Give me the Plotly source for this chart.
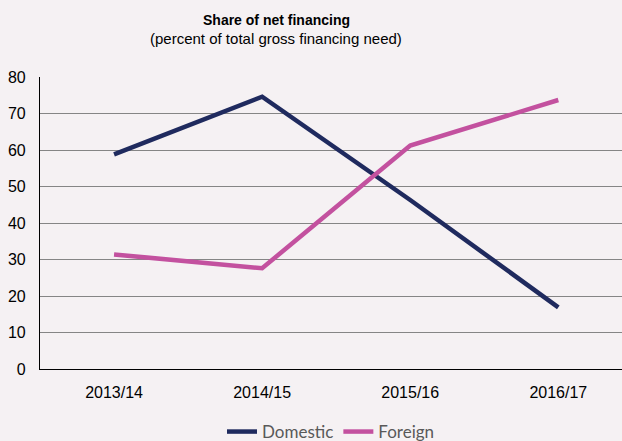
import plotly.graph_objects as go

categories = ["2013/14", "2014/15", "2015/16", "2016/17"]
domestic = [58.8, 74.6, 46.3, 16.9]
foreign = [31.4, 27.6, 61.2, 73.7]
y_ticks = [0, 10, 20, 30, 40, 50, 60, 70, 80]

W, H = 622, 441
L, R, T, B = 40, 0, 77, 72
pw = W - L - R
ph = H - T - B

fig = go.Figure()
fig.add_trace(go.Scatter(x=list(range(len(categories))), y=domestic, name="Domestic",
                         mode="lines", line=dict(color="#1f2a5e", width=4.5)))
fig.add_trace(go.Scatter(x=list(range(len(categories))), y=foreign, name="Foreign",
                         mode="lines", line=dict(color="#c3519f", width=4.5)))

bg = "#f5f1f3"
fig.update_layout(
    width=W, height=H,
    margin=dict(l=L, r=R, t=T, b=B, autoexpand=False),
    paper_bgcolor=bg, plot_bgcolor=bg,
    font=dict(family="Liberation Sans, Arial", color="#000000"),
    showlegend=True,
    legend=dict(orientation="h", x=(331 - L) / pw, xanchor="center",
                y=(T + ph - 432) / ph, yanchor="middle",
                font=dict(family="Lato", size=17, color="#595959"),
                bgcolor="rgba(0,0,0,0)", itemwidth=30, tracegroupgap=0),
    xaxis=dict(
        tickmode="array", tickvals=list(range(len(categories))), ticktext=categories,
        range=[-0.5, 3.43], showgrid=False, zeroline=False,
        showline=True, linecolor="#000000", linewidth=1.2,
        tickfont=dict(size=16, color="#000000"), ticks="", ticklabelstandoff=9,
    ),
    yaxis=dict(
        range=[0, 80], tickvals=y_ticks, showgrid=True, gridcolor="#858585", gridwidth=1.2,
        zeroline=False, showline=True, linecolor="#000000", linewidth=1.2,
        tickfont=dict(size=16, color="#000000"), ticks="", ticklabelstandoff=10,
    ),
    annotations=[
        dict(text="<b>Share of net financing</b>", xref="paper", yref="paper",
             x=(276 - L) / pw, y=(T + ph - 20) / ph,
             xanchor="center", yanchor="middle", showarrow=False,
             font=dict(size=14, color="#000000")),
        dict(text="(percent of total gross financing need)", xref="paper", yref="paper",
             x=(276 - L) / pw, y=(T + ph - 39) / ph,
             xanchor="center", yanchor="middle", showarrow=False,
             font=dict(size=15, color="#000000")),
    ],
)

fig.write_html("out.html", config={"displayModeBar": False},
               post_script="document.body.style.margin='0px';document.body.style.overflow='hidden';")
